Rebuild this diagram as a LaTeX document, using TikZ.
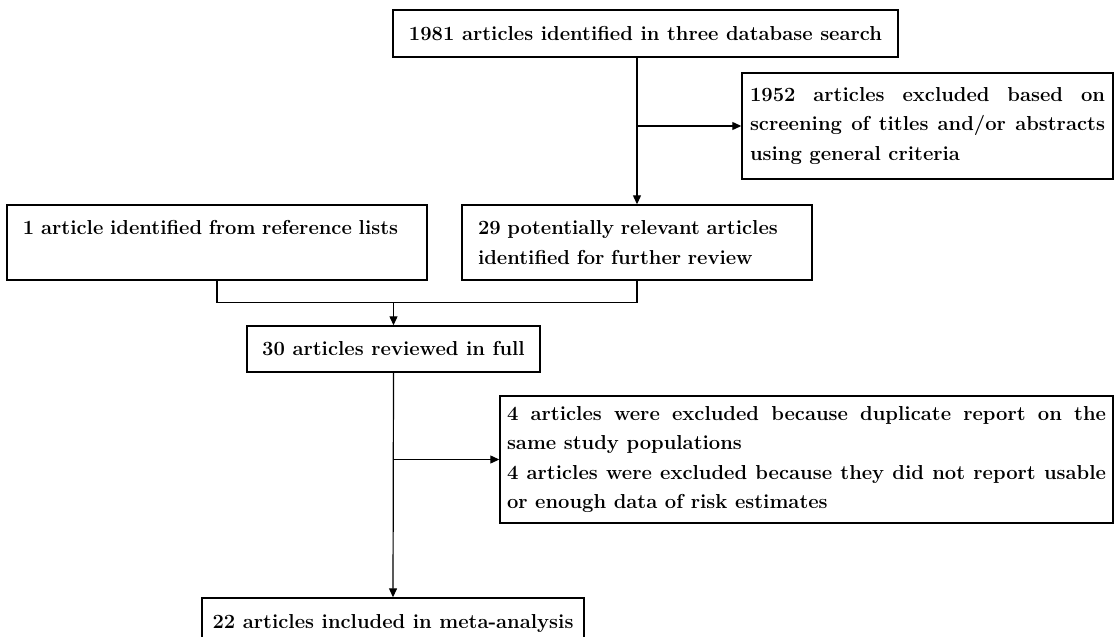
\documentclass[tikz,border=0pt]{standalone}
\usepackage{amsmath}
\usetikzlibrary{positioning}
\usetikzlibrary{calc}
\usetikzlibrary{arrows.meta}
\tikzset{>={Triangle[length=9pt,width=8pt]}}
\tikzset{stage/.style={draw, line width=1.4pt, inner sep=0pt, font=\fontsize{20.2}{29.5}\selectfont\bfseries}}
\tikzset{ln/.style={line width=1.2pt}}

\begin{document}
\begin{tikzpicture}[x=1pt,y=-1pt]
\useasboundingbox (0,0) rectangle (1114,637);

%%% The search part

\node[stage, minimum width=505pt, minimum height=47pt] (A) at (645.5,33.5) {1981 articles identified in three database search};
\node[stage, text width=355pt, inner xsep=8pt, minimum height=106pt, align=justify] (B) at (927.5,126) {1952 articles excluded based on\linebreak screening of titles and/or abstracts\linebreak using general criteria};

\node[stage, text width=388pt, inner xsep=16pt, minimum height=75pt, align=left] (L) at (217,242.5) {1 article identified from reference lists\\\mbox{}};
\node[stage, text width=318pt, inner xsep=16pt, minimum height=75pt, align=left] (C) at (637,242.5) {29 potentially relevant articles\\identified for further review};

\draw[ln,->] (C.north |- A.south) -- (C.north);
\draw[ln,->] (C.north |- B.west) -- (B.west);

%%% The full text part

\node[stage, minimum width=293pt, minimum height=46pt] (D) at (393.5,349) {30 articles reviewed in full};
\coordinate (jn) at ($(D.north)+(0,-23)$);

\draw[ln] (L.south) |- (jn) -| (C.south);
\draw[ln,->] (jn) -- (D.north);

\node[stage, text width=599pt, inner xsep=7pt, minimum height=127pt, align=justify] (E) at (806.5,459.5) {4 articles were excluded because duplicate report on the\linebreak same study populations\newline 4 articles were excluded because they did not report usable\linebreak or enough data of risk estimates};
\node[stage, minimum width=382pt, minimum height=52pt] (F) at (393,624) {22 articles included in meta-analysis};

\draw[ln,->] (D.south) -- (F.north);
\draw[ln,->] (D.south |- E.west) -- (E.west);

\end{tikzpicture}
\end{document}
